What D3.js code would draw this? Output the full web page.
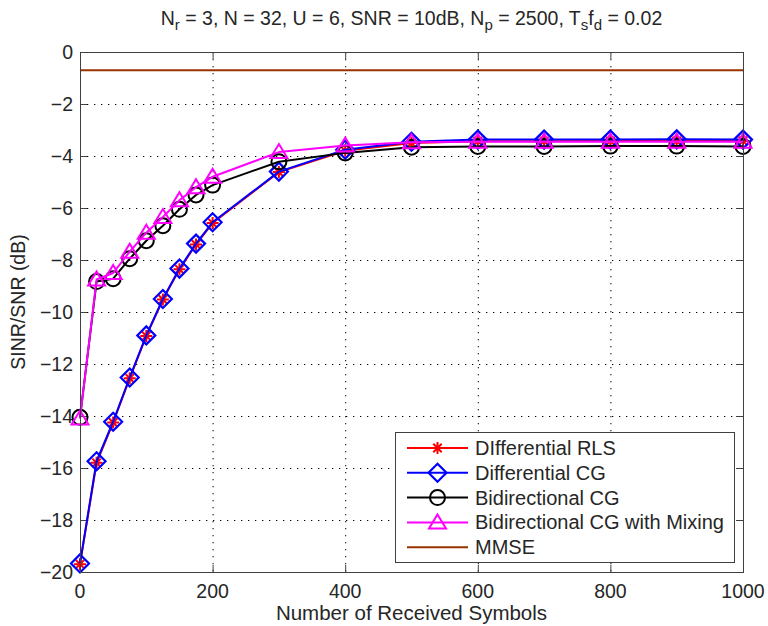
<!DOCTYPE html>
<html>
<head>
<meta charset="utf-8">
<script src="https://cdn.jsdelivr.net/npm/d3@7"></script>
<style>
  body { margin: 0; background: #fff; }
  text { font-family: "Liberation Sans", Arial, sans-serif; fill: #262626; }
</style>
</head>
<body>
<div id="chart"></div>
<script>
const width = 768;
const height = 626;
const margin = { top: 52, right: 25, bottom: 54, left: 80 };

// values
const symbols = [0, 25, 50, 75, 100, 125, 150, 175, 200, 300, 400, 500, 600, 700, 800, 900, 1000];
const diffRLS = [-19.7, -15.8, -14.25, -12.55, -10.92, -9.52, -8.36, -7.4, -6.58, -4.62, -3.8, -3.5, -3.43, -3.43, -3.42, -3.42, -3.42];
const diffCG = [-19.67, -15.74, -14.22, -12.52, -10.9, -9.5, -8.33, -7.37, -6.55, -4.6, -3.76, -3.45, -3.37, -3.37, -3.37, -3.36, -3.37];
const bidirCG = [-14.05, -8.83, -8.72, -7.95, -7.26, -6.68, -6.05, -5.5, -5.12, -4.22, -3.88, -3.66, -3.63, -3.63, -3.62, -3.62, -3.63];
const bidirMix = [-14.1, -8.75, -8.5, -7.68, -6.95, -6.35, -5.7, -5.2, -4.8, -3.85, -3.6, -3.47, -3.45, -3.45, -3.45, -3.45, -3.45];
const mmse = -0.7;

const xTicks = [0, 200, 400, 600, 800, 1000];
const yTicks = [0, -2, -4, -6, -8, -10, -12, -14, -16, -18, -20];

const series = [
  { name: "DIfferential RLS", values: diffRLS, color: "#ff0000", marker: "star" },
  { name: "Differential CG", values: diffCG, color: "#0000ff", marker: "diamond" },
  { name: "Bidirectional CG", values: bidirCG, color: "#000000", marker: "circle" },
  { name: "Bidirectional CG with Mixing", values: bidirMix, color: "#ff00ff", marker: "triangle" }
];
const mmseColor = "#993300";

const svg = d3.select("#chart").append("svg")
  .attr("width", width)
  .attr("height", height);

const x = d3.scaleLinear().domain([0, 1000]).range([margin.left, width - margin.right]);
const y = d3.scaleLinear().domain([-20, 0]).range([height - margin.bottom, margin.top]);

const x0 = x.range()[0], x1 = x.range()[1];
const y0 = y.range()[0], y1 = y.range()[1];

// dotted grid
const grid = svg.append("g").attr("stroke", "#000").attr("stroke-width", 1)
  .attr("stroke-dasharray", "1.3,5.7");
grid.selectAll("line.gx").data(xTicks.slice(1, -1)).enter().append("line")
  .attr("x1", d => x(d) + 0.5).attr("x2", d => x(d) + 0.5)
  .attr("y1", y1).attr("y2", y0);
grid.selectAll("line.gy").data(yTicks.slice(1, -1)).enter().append("line")
  .attr("y1", d => y(d) + 0.5).attr("y2", d => y(d) + 0.5)
  .attr("x1", x0).attr("x2", x1);

// axes (ticks inward, mirrored on top/right)
const tickLen = 7;
const axisColor = "#404040";
const ax = svg.append("g").attr("stroke", axisColor).attr("stroke-width", 1);
xTicks.forEach(t => {
  ax.append("line").attr("x1", x(t) + 0.5).attr("x2", x(t) + 0.5).attr("y1", y0).attr("y2", y0 - tickLen);
  ax.append("line").attr("x1", x(t) + 0.5).attr("x2", x(t) + 0.5).attr("y1", y1).attr("y2", y1 + tickLen);
});
yTicks.forEach(t => {
  ax.append("line").attr("y1", y(t) + 0.5).attr("y2", y(t) + 0.5).attr("x1", x0).attr("x2", x0 + tickLen);
  ax.append("line").attr("y1", y(t) + 0.5).attr("y2", y(t) + 0.5).attr("x1", x1).attr("x2", x1 - tickLen);
});

svg.append("g").selectAll("text").data(xTicks).enter().append("text")
  .attr("x", d => x(d))
  .attr("y", y0 + 26)
  .attr("text-anchor", "middle")
  .attr("font-size", 19.5)
  .text(d => d);

svg.append("g").selectAll("text").data(yTicks).enter().append("text")
  .attr("x", x0 - 7)
  .attr("y", d => y(d) + 7)
  .attr("text-anchor", "end")
  .attr("font-size", 19.5)
  .text(d => d < 0 ? "\u2212" + Math.abs(d) : d);

// MMSE bound
svg.append("line")
  .attr("x1", x0).attr("x2", x1)
  .attr("y1", y(mmse)).attr("y2", y(mmse))
  .attr("stroke", mmseColor).attr("stroke-width", 2);

// marker shapes
function drawMarker(g, type, cx, cy, color) {
  if (type === "star") {
    const r = 6;
    const p = `M${cx - r},${cy}L${cx + r},${cy}M${cx},${cy - r}L${cx},${cy + r}` +
      `M${cx - r * 0.7},${cy - r * 0.7}L${cx + r * 0.7},${cy + r * 0.7}` +
      `M${cx - r * 0.7},${cy + r * 0.7}L${cx + r * 0.7},${cy - r * 0.7}`;
    g.append("path").attr("d", p).attr("stroke", color).attr("stroke-width", 2).attr("fill", "none");
  } else if (type === "diamond") {
    const r = 9;
    g.append("path").attr("d", `M${cx},${cy - r}L${cx + r},${cy}L${cx},${cy + r}L${cx - r},${cy}Z`)
      .attr("stroke", color).attr("stroke-width", 2.2).attr("fill", "none");
  } else if (type === "circle") {
    g.append("circle").attr("cx", cx).attr("cy", cy).attr("r", 7.5)
      .attr("stroke", color).attr("stroke-width", 2).attr("fill", "none");
  } else if (type === "triangle") {
    const w = 8.5, h = 7;
    g.append("path").attr("d", `M${cx},${cy - h - 1}L${cx + w},${cy + h - 1}L${cx - w},${cy + h - 1}Z`)
      .attr("stroke", color).attr("stroke-width", 2).attr("fill", "none");
  }
}

const line = d3.line()
  .x((d, i) => x(symbols[i]))
  .y(d => y(d));

series.forEach(s => {
  const g = svg.append("g");
  g.append("path")
    .datum(s.values)
    .attr("d", line)
    .attr("fill", "none")
    .attr("stroke", s.color)
    .attr("stroke-width", 2)
    .attr("stroke-linejoin", "round");
  s.values.forEach((v, i) => drawMarker(g, s.marker, x(symbols[i]), y(v), s.color));
});

// axes box on top
svg.append("rect")
  .attr("x", x0 + 0.5).attr("y", y1 + 0.5)
  .attr("width", x1 - x0).attr("height", y0 - y1)
  .attr("fill", "none").attr("stroke", axisColor).attr("stroke-width", 1);

// legend
const lg = svg.append("g");
lg.append("rect")
  .attr("x", 395.5).attr("y", 432.5)
  .attr("width", 339).attr("height", 130)
  .attr("fill", "#fff").attr("stroke", axisColor).attr("stroke-width", 1);

const legendItems = series.map(s => ({ name: s.name, color: s.color, marker: s.marker }))
  .concat([{ name: "MMSE", color: mmseColor, marker: null }]);

legendItems.forEach((d, i) => {
  const ly = 448 + i * 24.8;
  lg.append("line").attr("x1", 407).attr("x2", 468).attr("y1", ly).attr("y2", ly)
    .attr("stroke", d.color).attr("stroke-width", 2);
  if (d.marker) drawMarker(lg, d.marker, 437.5, ly, d.color);
  lg.append("text")
    .attr("x", 475).attr("y", ly + 7)
    .attr("font-size", 20)
    .text(d.name);
});

// labels
svg.append("text")
  .attr("x", (x0 + x1) / 2)
  .attr("y", 620)
  .attr("text-anchor", "middle")
  .attr("font-size", 20.5)
  .text("Number of Received Symbols");

svg.append("text")
  .attr("transform", `translate(25,${(y0 + y1) / 2 - 10}) rotate(-90)`)
  .attr("text-anchor", "middle")
  .attr("font-size", 19.5)
  .text("SINR/SNR (dB)");

// title with subscripts
const title = svg.append("text")
  .attr("x", (x0 + x1) / 2)
  .attr("y", 25)
  .attr("text-anchor", "middle")
  .attr("font-size", 19.5);
const parts = [
  ["N", false], ["r", true], [" = 3, N = 32, U = 6, SNR = 10dB, N", false], ["p", true],
  [" = 2500, T", false], ["s", true], ["f", false], ["d", true], [" = 0.02", false]
];
parts.forEach(([t, sub]) => {
  title.append("tspan")
    .attr("baseline-shift", sub ? "-30%" : null)
    .attr("font-size", sub ? 15 : null)
    .text(t);
});
</script>
</body>
</html>
